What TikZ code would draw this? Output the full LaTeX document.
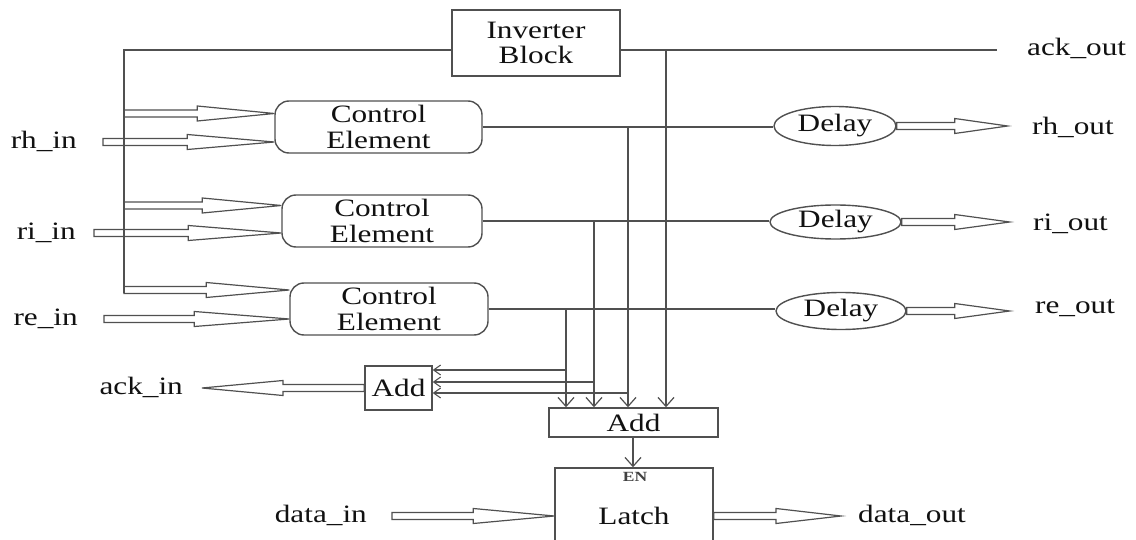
\documentclass[tikz,border=0pt]{standalone}
\usepackage{fontspec}
\setmainfont{Liberation Serif}[FakeStretch=1.25]
\usetikzlibrary{calc,arrows.meta,shapes.geometric}

\definecolor{wiregray}{HTML}{505050}
\definecolor{ink}{HTML}{111111}

\newcommand\blockfont{\fontsize{25}{25.5}\selectfont}
\newcommand\labelfont{\fontsize{25}{26}\selectfont}

% hollow "bus" arrow: #2 start, #3 tip, #1 head length
\newcommand\fatarrow[3][80]{%
  \coordinate (fa-h) at ($(#3)!#1pt!(#2)$);
  \draw[fat] ($(#2)+(0,3.5)$) -- ($(fa-h)+(0,3.5)$) -- ($(fa-h)+(0,7.5)$) -- (#3)
    -- ($(fa-h)+(0,-7.5)$) -- ($(fa-h)+(0,-3.5)$) -- ($(#2)+(0,-3.5)$) -- cycle;}

\tikzset{
  wire/.style={draw=wiregray, line width=1.4pt},
  fat/.style={draw=wiregray, line width=1.2pt, line join=miter},
  vtip/.style={-{Straight Barb[length=9pt,width=16pt,line width=1.2pt]}},
  htip/.style={-{Straight Barb[length=7pt,width=10pt,line width=1.1pt]}},
  blk/.style={draw=wiregray, line width=1.4pt, inner sep=0pt, text=ink,
              font=\blockfont, align=center},
  ctrl/.style={blk, rectangle, rounded corners=14pt, minimum height=52pt},
  delay/.style={blk, ellipse},
  lbl/.style={inner sep=0pt, text=ink, font=\labelfont}
}

\begin{document}
\begin{tikzpicture}[x=1pt, y=-1pt]
  \fill[white] (0,0) rectangle (1136,540);
  \clip (0,0) rectangle (1136,540);

  % blocks
  \node[blk, minimum width=168pt, minimum height=66pt] (inv) at (536,43) {Inverter\\Block};
  \node[ctrl, minimum width=207pt] (ce1) at (378.5,127) {Control\\Element};
  \node[ctrl, minimum width=200pt] (ce2) at (382,221) {Control\\Element};
  \node[ctrl, minimum width=198pt] (ce3) at (389,309) {Control\\Element};
  \node[delay, minimum width=122pt, minimum height=39pt] (d1) at (835,126) {Delay};
  \node[delay, minimum width=131pt, minimum height=34pt] (d2) at (835.5,222) {Delay};
  \node[delay, minimum width=130pt, minimum height=37pt] (d3) at (841,311) {Delay};
  \node[blk, minimum width=67pt, minimum height=44pt] (sadd) at (398.5,388) {Add};
  \node[blk, minimum width=169pt, minimum height=29pt] (add) at (633.5,422.5) {Add};
  \node[blk, minimum width=158pt, minimum height=96pt] (latch) at (634,516) {Latch};
  \node[inner sep=0pt, text=ink!80, font=\fontsize{14}{14}\selectfont\bfseries] (en) at (635,477) {EN};

  % labels
  \node[lbl, anchor=west] (ackout) at (1027,48) {ack\_out};
  \node[lbl, anchor=west] (rhout) at (1032,127) {rh\_out};
  \node[lbl, anchor=west] (riout) at (1033,224) {ri\_out};
  \node[lbl, anchor=west] (reout) at (1035,308) {re\_out};
  \node[lbl, anchor=east] (rhin) at (77,141) {rh\_in};
  \node[lbl, anchor=east] (riin) at (76,233) {ri\_in};
  \node[lbl, anchor=east] (rein) at (78,319) {re\_in};
  \node[lbl, anchor=east] (ackin) at (183,387) {ack\_in};
  \node[lbl, anchor=east] (datain) at (367,515) {data\_in};
  \node[lbl, anchor=west] (dataout) at (858,515) {data\_out};

  % acknowledge bus from the inverter
  \coordinate (bustop) at (124,50);
  \coordinate (busbot) at (124,293.5);
  \draw[wire] (inv.west |- bustop) -- (bustop) -- (busbot);
  \coordinate (ackend) at (997,50);
  \draw[wire] (inv.east |- bustop) -- (ackend);

  % request inputs
  \coordinate (s1) at (124,113.5);  \coordinate (e1) at (s1 -| ce1.west);
  \coordinate (r1) at (103,142);    \coordinate (f1) at (r1 -| ce1.west);
  \coordinate (s2) at (124,205.5);  \coordinate (e2) at (s2 -| ce2.west);
  \coordinate (r2) at (94,233);     \coordinate (f2) at (r2 -| ce2.west);
  \coordinate (s3) at (124,290);    \coordinate (e3) at (s3 -| ce3.west);
  \coordinate (r3) at (104,319);    \coordinate (f3) at (r3 -| ce3.west);
  \fatarrow[77]{s1}{e1}
  \fatarrow[87]{r1}{f1}
  \fatarrow[79]{s2}{e2}
  \fatarrow[93]{r2}{f2}
  \fatarrow[83]{s3}{e3}
  \fatarrow[95]{r3}{f3}

  % control element outputs to the delays
  \draw[wire] (ce1.east) -- (ce1.east -| d1.west);
  \draw[wire] (ce2.east) -- (ce2.east -| d2.west);
  \draw[wire] (ce3.east) -- (ce3.east -| d3.west);

  % taps down to the adders
  \coordinate (t0) at (666,50);
  \coordinate (t1) at (ce1.east -| 628,0);
  \coordinate (t2) at (ce2.east -| 594,0);
  \coordinate (t3) at (ce3.east -| 566,0);
  \draw[wire, vtip] (t0) -- (t0 |- add.north);
  \draw[wire, vtip] (t1) -- (t1 |- add.north);
  \draw[wire, vtip] (t2) -- (t2 |- add.north);
  \draw[wire, vtip] (t3) -- (t3 |- add.north);
  \coordinate (h3) at (566,370);
  \coordinate (h2) at (594,382);
  \coordinate (h1) at (628,393);
  \draw[wire, htip] (h3) -- (h3 -| sadd.east);
  \draw[wire, htip] (h2) -- (h2 -| sadd.east);
  \draw[wire, htip] (h1) -- (h1 -| sadd.east);
  \draw[wire, vtip] (add.south -| 633,0) -- (latch.north -| 633,0);

  % outputs
  \coordinate (o1) at ($(d1.east)+(111,0)$);
  \coordinate (o2) at ($(d2.east)+(108,0)$);
  \coordinate (o3) at ($(d3.east)+(103,0)$);
  \fatarrow[53]{d1.east}{o1}
  \fatarrow[55]{d2.east}{o2}
  \fatarrow[55]{d3.east}{o3}
  \coordinate (ackt) at (sadd.west -| 202,0);
  \fatarrow[81]{sadd.west}{ackt}
  \coordinate (din) at (latch.west -| 392,0);
  \fatarrow[81]{din}{latch.west}
  \coordinate (dout) at (latch.east -| 841,0);
  \fatarrow[65]{latch.east}{dout}
\end{tikzpicture}
\end{document}
